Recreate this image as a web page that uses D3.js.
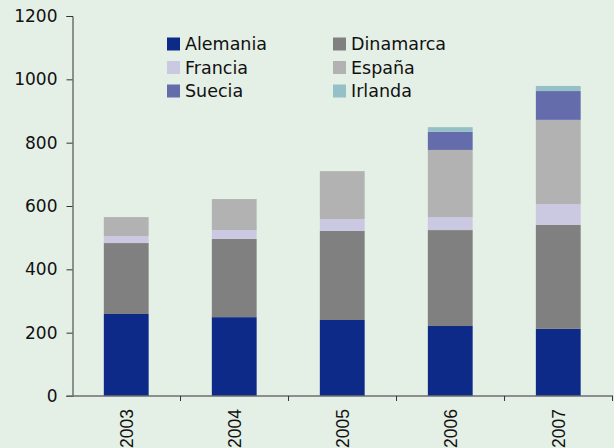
<!DOCTYPE html>
<html>
<head>
<meta charset="utf-8">
<script src="https://cdn.jsdelivr.net/npm/d3@7"></script>
<style>
  body { margin: 0; background: #e4efe6; }
  svg { display: block; }
</style>
</head>
<body>
<div id="chart"></div>
<script>
// data
const years = ["2003", "2004", "2005", "2006", "2007"];
const countries = ["Alemania", "Dinamarca", "Francia", "España", "Suecia", "Irlanda"];
const alemania  = [259, 249, 240, 221, 212];
const dinamarca = [224, 247, 281, 303, 328];
const francia   = [22, 28, 38, 41, 66];
const espana    = [60, 98, 151, 212, 266];
const suecia    = [0, 0, 0, 57, 91];
const irlanda   = [0, 0, 0, 15, 16];
const colors = ["#0e2a88", "#808080", "#cbc9e1", "#b2b2b2", "#646cac", "#96c0c8"];
const yTicks = [0, 200, 400, 600, 800, 1000, 1200];

const series = [alemania, dinamarca, francia, espana, suecia, irlanda];
let rows = years.map((y, i) => {
    let r = { year: y };
    countries.forEach((c, k) => r[c] = series[k][i]);
    return r;
});

let width = 614, height = 448;
let margin = { top: 16, right: 2, bottom: 52, left: 72.5 };

let svg = d3.select("#chart").append("svg")
    .attr("width", width)
    .attr("height", height);

svg.append("rect").attr("width", width).attr("height", height).attr("fill", "#e4efe6");

let x = d3.scaleBand()
    .domain(years)
    .range([margin.left, width - margin.right])
    .paddingInner(0.585)
    .paddingOuter(0.29);

let y = d3.scaleLinear()
    .domain([0, 1200])
    .range([height - margin.bottom, margin.top]);

let stacked = d3.stack().keys(countries)(rows);

svg.append("g")
    .selectAll("g")
    .data(stacked)
    .join("g")
    .attr("fill", (d, i) => colors[i])
    .selectAll("rect")
    .data(d => d)
    .join("rect")
    .attr("x", d => x(d.data.year))
    .attr("width", x.bandwidth())
    .attr("y", d => y(d[1]))
    .attr("height", d => y(d[0]) - y(d[1]));

// y axis
let yaxis = svg.append("g")
    .attr("transform", "translate(" + margin.left + ",0)")
    .call(d3.axisLeft(y).tickValues(yTicks).tickFormat(d3.format("d")).tickSize(6).tickPadding(9));
yaxis.selectAll("line, path").attr("stroke", "#333");
yaxis.selectAll("text")
    .attr("font-family", "DejaVu Sans, Verdana, sans-serif")
    .attr("font-size", 17)
    .attr("fill", "#111");

// x axis, ticks between the categories
let x0 = y(0);
let xaxis = svg.append("g");
xaxis.append("line")
    .attr("x1", margin.left - 6).attr("x2", width - 1)
    .attr("y1", x0).attr("y2", x0)
    .attr("stroke", "#6e6e6e").attr("stroke-width", 1.5);
let step = x.step();
let bounds = years.map((d, i) => margin.left + step * (i + 1));
xaxis.selectAll(".xt")
    .data(bounds)
    .join("line")
    .attr("x1", d => d).attr("x2", d => d)
    .attr("y1", x0).attr("y2", x0 + 5)
    .attr("stroke", "#333");
xaxis.selectAll("text")
    .data(years)
    .join("text")
    .attr("transform", d => "translate(" + (x(d) + x.bandwidth() / 2 + 6.5) + "," + (x0 + 13) + ") rotate(-90)")
    .attr("text-anchor", "end")
    .attr("font-family", "Liberation Sans, Arial, sans-serif")
    .attr("font-size", 17.5)
    .attr("fill", "#111")
    .text(d => d);

// legend
let legend = svg.append("g");
countries.forEach((c, i) => {
    let col = i % 2, row = Math.floor(i / 2);
    let lx = 167 + col * 166, ly = 44 + row * 23.5;
    legend.append("rect")
        .attr("x", lx).attr("y", ly - 6.5)
        .attr("width", 13).attr("height", 13)
        .attr("fill", colors[i]);
    legend.append("text")
        .attr("x", lx + 18).attr("y", ly)
        .attr("dy", "0.36em")
        .attr("font-family", "DejaVu Sans, Verdana, sans-serif")
        .attr("font-size", 17.5)
        .attr("fill", "#111")
        .text(c);
});
</script>
</body>
</html>
